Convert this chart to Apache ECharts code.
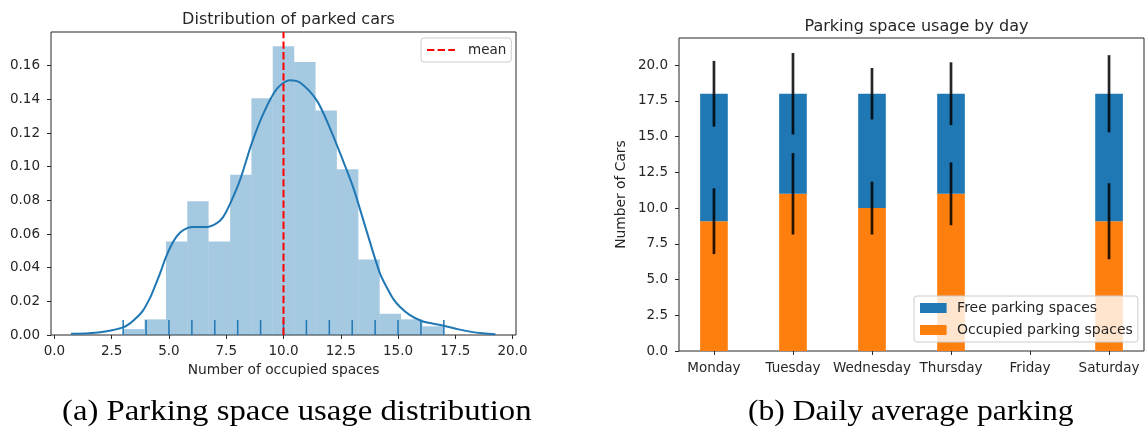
<!DOCTYPE html>
<html>
<head>
<meta charset="utf-8">
<script src="https://cdn.jsdelivr.net/npm/echarts@6/dist/echarts.min.js"></script>
<style>
html, body { margin: 0; padding: 0; background: #fff; }
#chart { width: 1145px; height: 436px; }
</style>
</head>
<body>
<div id="chart"></div>
<script>
// (a) distribution of parked cars
var binEdges = [3, 3.93, 4.87, 5.8, 6.73, 7.67, 8.6, 9.53, 10.47, 11.4, 12.33, 13.27, 14.2, 15.13, 16.07, 17];
var binDensity = [0.0035, 0.0093, 0.0555, 0.0795, 0.0555, 0.0952, 0.1407, 0.1715, 0.1622, 0.1333, 0.0985, 0.0449, 0.0126, 0.0093, 0.0052];
var kdeX = [0.72, 1.5, 2.0, 2.57, 3.0, 3.3, 3.6, 3.88, 4.18, 4.32, 4.61, 4.86, 5.19, 5.5, 5.82, 6.07, 6.65, 7.09, 7.37, 7.67, 8.1, 8.61, 9.12, 9.7, 10.28, 10.72, 11.45, 12.03, 12.61, 13.05, 13.63, 14.21, 14.57, 14.79, 15.08, 15.52, 16.03, 16.5, 17.0, 17.6, 18.14, 18.7, 19.25];
var kdeY = [0.0007, 0.0011, 0.0017, 0.003, 0.0045, 0.0069, 0.0105, 0.0148, 0.0222, 0.0267, 0.0366, 0.046, 0.0555, 0.061, 0.0636, 0.0642, 0.0642, 0.0665, 0.0702, 0.078, 0.092, 0.1137, 0.1315, 0.146, 0.1514, 0.150, 0.1394, 0.1228, 0.1032, 0.0874, 0.0617, 0.0366, 0.0267, 0.0215, 0.0168, 0.0118, 0.0083, 0.0068, 0.0055, 0.0035, 0.002, 0.001, 0.0005];
var rugValues = [3, 4, 5, 6, 7, 8, 9, 10, 11, 12, 13, 14, 15, 16, 17];
var meanValue = 10.0;
var spaceTicks = [0, 2.5, 5, 7.5, 10, 12.5, 15, 17.5, 20];
var densityTicks = [0, 0.02, 0.04, 0.06, 0.08, 0.10, 0.12, 0.14, 0.16];

// (b) daily average parking
var days = ['Monday', 'Tuesday', 'Wednesday', 'Thursday', 'Friday', 'Saturday'];
var occupied = [9.08, 11.0, 10.0, 11.0, null, 9.08];
var free = [8.92, 7.0, 8.0, 7.0, null, 8.92];
var occupiedErr = [2.3, 2.85, 1.85, 2.2, null, 2.66];
var freeErr = [2.3, 2.85, 1.8, 2.2, null, 2.7];
var carTicks = [0, 2.5, 5, 7.5, 10, 12.5, 15, 17.5, 20];

var chart = echarts.init(document.getElementById('chart'));
var FONT = 'DejaVu Sans';
var INK = '#262626';
var BAR_W = 0.35;

var histData = binDensity.map(function (d, i) { return [binEdges[i], binEdges[i + 1], d]; });
var kdeData = kdeX.map(function (x, i) { return [x, kdeY[i]]; });
var rugData = rugValues.map(function (v) { return [v]; });

var occData = [], freeData = [], errData = [];
days.forEach(function (d, i) {
    if (occupied[i] == null) return;
    occData.push([i, 0, occupied[i]]);
    freeData.push([i, occupied[i], occupied[i] + free[i]]);
    errData.push([i, occupied[i], occupiedErr[i]]);
    errData.push([i, occupied[i] + free[i], freeErr[i]]);
});

function tickAxis(ticks, digits) {
    return {
        axisLine: { show: false, onZero: false },
        splitLine: { show: false },
        axisTick: { show: true, length: 4, customValues: ticks, lineStyle: { color: INK, width: 1 } },
        axisLabel: {
            customValues: ticks,
            fontFamily: FONT, fontSize: 13.5, color: INK,
            formatter: function (v) { return v.toFixed(digits); }
        }
    };
}

var xLeft = tickAxis(spaceTicks, 1);
xLeft.type = 'value'; xLeft.gridIndex = 0; xLeft.min = -0.15; xLeft.max = 20.15;
xLeft.axisLabel.margin = 9;
xLeft.name = 'Number of occupied spaces';
xLeft.nameLocation = 'middle';
xLeft.nameGap = 28;
xLeft.nameTextStyle = { fontFamily: FONT, fontSize: 13.8, color: INK };

var yLeft = tickAxis(densityTicks, 2);
yLeft.type = 'value'; yLeft.gridIndex = 0; yLeft.min = 0; yLeft.max = 0.18;
yLeft.axisLabel.margin = 11;

var xRight = tickAxis([0, 1, 2, 3, 4, 5], 0);
xRight.type = 'value'; xRight.gridIndex = 1; xRight.min = -0.4425; xRight.max = 5.4425;
xRight.axisLabel.margin = 10;
xRight.axisLabel.formatter = function (v) { return days[Math.round(v)]; };

var yRight = tickAxis(carTicks, 1);
yRight.type = 'value'; yRight.gridIndex = 1; yRight.min = 0; yRight.max = 21.9;
yRight.axisLabel.margin = 11;
yRight.name = 'Number of Cars';
yRight.nameLocation = 'middle';
yRight.nameRotate = 90;
yRight.nameGap = 51;
yRight.nameTextStyle = { fontFamily: FONT, fontSize: 13.8, color: INK };

function barItem(params, api) {
    var x = api.value(0);
    var p0 = api.coord([x - BAR_W / 2, api.value(2)]);
    var p1 = api.coord([x + BAR_W / 2, api.value(1)]);
    return {
        type: 'rect',
        shape: { x: p0[0], y: p0[1], width: p1[0] - p0[0], height: p1[1] - p0[1] },
        style: { fill: api.visual('color') }
    };
}

var option = {
    animation: false,
    backgroundColor: '#fff',
    title: [{
        text: 'Distribution of parked cars',
        left: 283.5, top: 7, textAlign: 'center',
        textStyle: { fontFamily: FONT, fontSize: 16, fontWeight: 'normal', color: INK }
    }, {
        text: 'Parking space usage by day',
        left: 911.5, top: 14, textAlign: 'center',
        textStyle: { fontFamily: FONT, fontSize: 16, fontWeight: 'normal', color: INK }
    }],
    grid: [
        { left: 51, top: 32, width: 465, height: 303, show: true, borderColor: INK, borderWidth: 1, backgroundColor: 'transparent' },
        { left: 679, top: 38, width: 465, height: 313, show: true, borderColor: INK, borderWidth: 1, backgroundColor: 'transparent' }
    ],
    legend: [{
        data: ['mean'],
        left: 421, top: 38,
        padding: [5, 5, 5, 5],
        itemWidth: 28, itemHeight: 12,
        itemStyle: { opacity: 0 },
        backgroundColor: 'rgba(255,255,255,0.8)',
        borderColor: '#cccccc', borderWidth: 1, borderRadius: 3,
        textStyle: { fontFamily: FONT, fontSize: 13.5, color: INK, padding: [0, 0, 0, 8] }
    }, {
        data: ['Free parking spaces', 'Occupied parking spaces'],
        orient: 'vertical',
        left: 914, top: 296,
        padding: [5, 5, 5, 6],
        icon: 'rect',
        itemWidth: 26.6, itemHeight: 10, itemGap: 8,
        backgroundColor: 'rgba(255,255,255,0.8)',
        borderColor: '#cccccc', borderWidth: 1, borderRadius: 3,
        textStyle: { fontFamily: FONT, fontSize: 14, color: INK, padding: [0, 0, 0, 5.5] }
    }],
    xAxis: [xLeft, xRight],
    yAxis: [yLeft, yRight],
    graphic: [{
        type: 'text', x: 62, y: 412, scaleX: 1.13,
        style: {
            text: '(a) Parking space usage distribution',
            fontFamily: 'Liberation Serif', fontSize: 29, fill: '#000',
            verticalAlign: 'middle', textVerticalAlign: 'middle'
        }
    }, {
        type: 'text', x: 748, y: 412, scaleX: 1.09,
        style: {
            text: '(b) Daily average parking',
            fontFamily: 'Liberation Serif', fontSize: 29, fill: '#000',
            verticalAlign: 'middle', textVerticalAlign: 'middle'
        }
    }],
    series: [{
        name: 'hist',
        type: 'custom',
        xAxisIndex: 0, yAxisIndex: 0,
        encode: { x: [0, 1], y: 2 },
        data: histData,
        renderItem: function (params, api) {
            var p0 = api.coord([api.value(0), api.value(2)]);
            var p1 = api.coord([api.value(1), 0]);
            return {
                type: 'rect',
                shape: { x: p0[0], y: p0[1], width: p1[0] - p0[0], height: p1[1] - p0[1] },
                style: { fill: 'rgba(31,119,180,0.4)' }
            };
        }
    }, {
        name: 'kde',
        type: 'line',
        xAxisIndex: 0, yAxisIndex: 0,
        data: kdeData,
        smooth: 0.3,
        symbol: 'none',
        lineStyle: { color: '#1f77b4', width: 2 }
    }, {
        name: 'rug',
        type: 'custom',
        xAxisIndex: 0, yAxisIndex: 0,
        encode: { x: 0 },
        data: rugData,
        renderItem: function (params, api) {
            var p = api.coord([api.value(0), 0]);
            return {
                type: 'line',
                shape: { x1: p[0], y1: p[1], x2: p[0], y2: p[1] - 15 },
                style: { stroke: '#1f77b4', lineWidth: 1.5 }
            };
        }
    }, {
        name: 'mean',
        type: 'line',
        xAxisIndex: 0, yAxisIndex: 0,
        data: [[meanValue, 0], [meanValue, 0.18]],
        symbol: 'none',
        color: '#ff0000',
        lineStyle: { color: '#ff0000', width: 2, type: [7.4, 3.2] }
    }, {
        name: 'Occupied parking spaces',
        type: 'custom',
        xAxisIndex: 1, yAxisIndex: 1,
        encode: { x: 0, y: [1, 2] },
        data: occData,
        itemStyle: { color: '#ff7f0e' },
        renderItem: barItem
    }, {
        name: 'Free parking spaces',
        type: 'custom',
        xAxisIndex: 1, yAxisIndex: 1,
        encode: { x: 0, y: [1, 2] },
        data: freeData,
        itemStyle: { color: '#1f77b4' },
        renderItem: barItem
    }, {
        name: 'err',
        type: 'custom',
        xAxisIndex: 1, yAxisIndex: 1,
        encode: { x: 0, y: 1 },
        data: errData,
        z: 5,
        renderItem: function (params, api) {
            var x = api.value(0), c = api.value(1), e = api.value(2);
            var lo = api.coord([x, c - e]);
            var hi = api.coord([x, c + e]);
            return {
                type: 'line',
                shape: { x1: lo[0], y1: lo[1], x2: hi[0], y2: hi[1] },
                style: { stroke: 'rgba(0,0,0,0.85)', lineWidth: 2.7 }
            };
        }
    }]
};
chart.setOption(option);
</script>
</body>
</html>
